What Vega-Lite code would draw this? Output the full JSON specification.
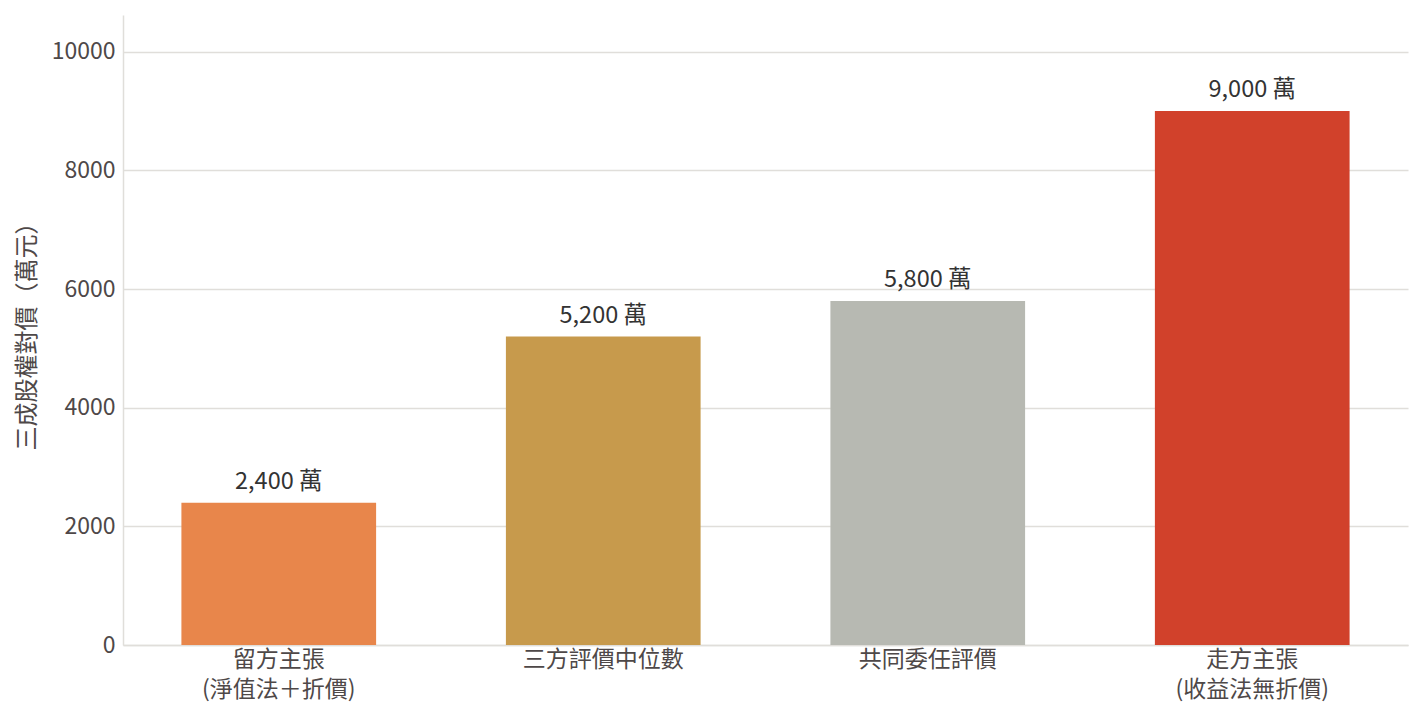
{
  "$schema": "https://vega.github.io/schema/vega-lite/v6.json",
  "autosize": "none",
  "width": 1285,
  "height": 630,
  "padding": {"left": 123, "top": 15, "right": 16, "bottom": 75},
  "background": "white",
  "config": {
    "view": {"stroke": null},
    "font": "Noto Sans CJK TC"
  },
  "data": {
    "values": [
      {"cat": "留方主張|(淨值法＋折價)", "value": 2400, "label": "2,400 萬", "color": "#E8864B"},
      {"cat": "三方評價中位數", "value": 5200, "label": "5,200 萬", "color": "#C79A4C"},
      {"cat": "共同委任評價", "value": 5800, "label": "5,800 萬", "color": "#B7B9B2"},
      {"cat": "走方主張|(收益法無折價)", "value": 9000, "label": "9,000 萬", "color": "#D1412B"}
    ]
  },
  "encoding": {
    "x": {
      "field": "cat",
      "type": "nominal",
      "sort": null,
      "scale": {"paddingInner": 0.4, "paddingOuter": 0.18},
      "axis": {
        "title": null,
        "labelAngle": 0,
        "labelExpr": "split(datum.label, '|')",
        "labelFont": "Noto Sans CJK TC",
        "labelFontSize": 23,
        "labelColor": "#4E4848",
        "labelLineHeight": 30,
        "labelPadding": 3,
        "ticks": false,
        "domainColor": "#E0DEDA",
        "domainWidth": 1.5
      }
    },
    "y": {
      "field": "value",
      "type": "quantitative",
      "scale": {"domain": [0, 10620], "nice": false},
      "axis": {
        "title": "三成股權對價（萬元）",
        "titleFont": "Noto Sans CJK TC",
        "titleFontSize": 24,
        "titleFontWeight": "normal",
        "titleColor": "#4E4848",
        "titlePadding": 12,
        "values": [0, 2000, 4000, 6000, 8000, 10000],
        "format": "d",
        "labelFont": "Noto Sans CJK TC",
        "labelFontSize": 23,
        "labelColor": "#4E4848",
        "labelPadding": 8,
        "ticks": false,
        "domainColor": "#E0DEDA",
        "domainWidth": 1.5,
        "gridColor": "#E0DEDA",
        "gridWidth": 1.5
      }
    }
  },
  "layer": [
    {
      "mark": {"type": "bar"},
      "encoding": {
        "color": {"field": "color", "type": "nominal", "scale": null, "legend": null}
      }
    },
    {
      "mark": {"type": "text", "baseline": "bottom", "dy": -9, "fontSize": 23.5, "color": "#333333", "font": "Noto Sans CJK TC"},
      "encoding": {
        "text": {"field": "label"}
      }
    }
  ]
}
